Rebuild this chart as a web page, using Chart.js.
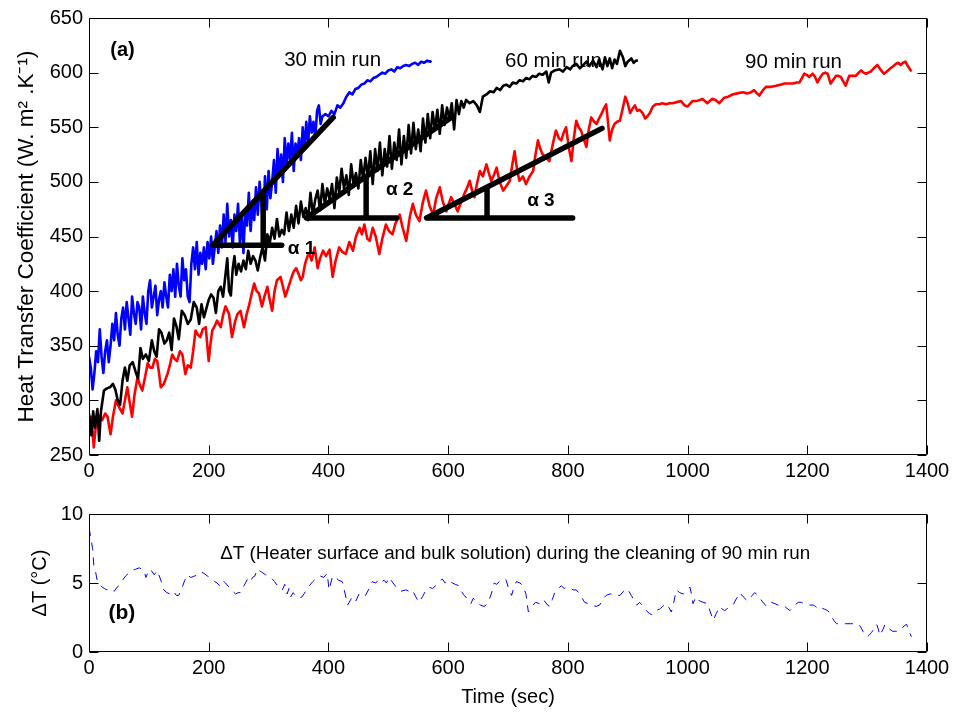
<!DOCTYPE html>
<html><head><meta charset="utf-8">
<script src="https://cdn.jsdelivr.net/npm/chart.js@4"></script>
<style>
html,body{margin:0;padding:0;background:#fff;width:955px;height:712px;overflow:hidden;}
canvas{position:absolute;left:0;}
#chartA{top:0;}
#chartB{top:490px;}
</style></head><body>
<canvas id="chartA" width="955" height="490"></canvas>
<canvas id="chartB" width="955" height="222"></canvas>
<script>
// ---------------- DATA ----------------
const timeTicks = [0, 200, 400, 600, 800, 1000, 1200, 1400];
const htcTicks = [250, 300, 350, 400, 450, 500, 550, 600, 650];
const dtTicks = [0, 5, 10];

// 30 min run (blue)
const blueTime = [0,3,6,9,12,15,18,21,24,27,30,33,36,39,42,45,48,51,54,57,60,63,66,69,72,75,78,81,84,87,90,93,96,99,102,105,108,111,114,117,120,123,126,129,132,135,138,141,144,147,150,153,156,159,162,165,168,171,174,177,180,183,186,189,192,195,198,201,204,207,210,213,216,219,222,225,228,231,234,237,240,243,246,249,252,255,258,261,264,267,270,273,276,279,282,285,288,291,294,297,300,303,306,309,312,315,318,321,324,327,330,333,336,339,342,345,348,351,354,357,360,363,366,369,372,375,378,381,384,387,390,395,400,405,410,415,420,425,430,435,440,445,450,455,460,465,470,475,480,485,490,495,500,505,510,515,520,525,530,535,540,545,550,555,560,565,570,572];
const blueHTC = [340,330,310,325,345,335,365,340,325,345,355,335,350,370,355,380,360,350,375,385,365,390,375,360,395,380,370,390,385,365,395,380,370,400,410,385,395,405,378,392,400,385,408,395,385,415,400,420,395,425,405,395,430,410,420,395,390,425,440,420,445,415,435,425,440,420,445,430,450,425,440,455,435,460,440,470,445,480,450,465,440,470,455,480,445,470,435,475,460,490,455,480,465,495,470,500,480,460,505,475,510,485,500,520,490,530,505,525,500,540,515,535,520,545,510,535,525,540,520,550,530,555,535,560,545,555,540,565,570,553,560,562,560,565,562,570,568,572,578,582,580,585,586,589,590,593,592,595,596,598,600,599,602,603,601,605,604,606,607,606,608,609,607,610,609,611,610,611];

// 60 min run (black)
const blackTime = [0,4,7,10,14,17,20,25,30,35,40,44,48,52,56,60,64,68,73,78,82,86,90,95,100,105,109,113,117,121,126,130,134,138,142,146,150,155,160,165,170,175,180,184,188,192,196,200,204,208,212,216,220,224,228,231,234,237,240,243,246,250,254,258,262,266,270,274,278,282,286,290,294,298,302,306,310,314,318,322,326,330,334,338,342,346,350,354,358,362,366,370,374,378,382,386,390,394,398,402,406,410,414,418,422,426,430,434,438,442,446,450,454,458,462,466,470,474,478,482,486,490,494,498,502,506,510,514,518,522,526,530,534,538,542,546,550,554,558,562,566,570,574,578,582,586,590,594,598,602,606,610,614,618,622,626,630,636,642,648,653,658,664,670,676,681,687,692,697,703,708,714,719,725,730,736,741,747,752,758,764,768,772,778,786,792,798,804,808,814,820,826,831,836,842,848,852,858,862,866,870,874,878,882,887,892,896,900,906,910,914,917];
const blackHTC = [288,268,290,275,292,263,290,309,311,312,315,310,300,296,318,330,318,332,335,326,320,348,338,342,336,355,345,340,365,362,352,355,362,346,375,368,356,382,378,370,374,390,385,370,388,376,384,392,397,394,380,400,404,395,415,430,400,396,420,432,415,425,418,428,420,437,425,432,428,419,431,440,428,452,444,458,448,466,450,456,452,472,455,470,458,478,462,482,468,476,465,490,470,484,492,474,498,480,494,484,498,476,504,490,512,494,506,488,516,498,508,494,520,502,522,504,528,498,530,510,536,506,530,514,542,512,536,520,548,516,542,522,552,526,554,530,548,528,558,536,562,540,564,548,566,544,570,552,568,558,572,548,575,562,574,568,575,572,574,570,564,578,580,583,582,586,584,588,589,587,591,590,593,592,595,594,597,596,599,598,601,591,600,602,603,601,605,603,606,608,604,607,610,606,611,605,612,603,614,606,613,604,612,608,620,614,606,610,613,609,611,611];

// 90 min run (red)
const redTime = [0,4,8,12,14,18,22,27,31,36,40,45,50,56,60,64,68,72,76,81,85,89,94,98,102,106,110,114,117,120,125,131,135,139,143,147,152,156,161,165,170,174,178,182,186,190,195,200,203,206,210,214,220,224,228,234,239,244,248,253,259,263,267,272,276,280,284,289,293,298,302,306,310,314,320,324,328,334,338,342,346,350,354,357,361,365,368,372,377,382,386,391,396,402,407,412,418,423,429,435,441,446,452,456,460,465,469,474,479,485,490,496,501,507,512,519,524,530,536,541,546,552,558,563,569,575,580,586,591,597,601,605,611,616,622,627,632,636,640,644,648,653,658,664,668,672,677,681,686,692,697,703,707,711,715,719,725,730,736,742,746,750,754,758,764,769,775,780,785,789,793,797,802,806,810,814,818,822,826,831,835,839,844,848,852,856,860,864,867,870,874,878,882,887,892,896,900,904,908,912,916,920,925,929,933,937,942,947,953,958,964,970,975,982,989,995,1000,1008,1016,1025,1033,1041,1047,1053,1061,1068,1075,1083,1092,1100,1106,1111,1116,1120,1126,1131,1140,1148,1155,1162,1170,1176,1182,1187,1191,1195,1199,1203,1209,1213,1217,1222,1226,1230,1234,1239,1244,1248,1252,1256,1260,1264,1268,1270,1276,1281,1286,1290,1294,1298,1302,1306,1311,1317,1322,1328,1333,1339,1344,1348,1352,1356,1360,1364,1368,1374];
const redHTC = [272,285,257,280,288,285,282,288,285,269,285,300,294,288,300,312,298,285,305,321,314,309,322,334,330,330,338,336,325,312,315,324,332,342,338,336,345,342,324,332,330,345,364,360,358,365,367,336,352,364,368,373,367,378,386,379,358,372,379,382,367,378,386,398,407,400,398,386,395,404,392,382,400,410,413,404,395,405,412,418,421,416,410,413,425,432,434,428,440,421,430,437,432,438,413,428,440,436,434,445,437,450,458,452,461,448,446,458,450,434,448,461,455,452,462,470,458,446,468,480,470,464,482,492,478,470,485,495,482,473,480,486,479,473,482,489,495,501,492,486,498,510,505,516,508,501,507,513,500,492,496,501,515,528,512,501,505,498,505,510,525,538,530,525,522,519,535,547,540,538,545,550,530,519,540,556,550,547,540,532,548,559,555,553,558,562,567,571,555,538,548,553,555,556,568,578,572,563,567,570,565,566,563,558,560,563,569,571,571,572,571,572,572,573,574,570,569,574,574,576,572,576,575,572,577,578,580,581,582,581,582,584,581,579,584,587,587,588,589,590,590,590,591,591,595,599,598,596,599,596,591,596,599,600,599,590,594,597,597,596,592,588,594,597,597,597,600,602,600,599,600,601,604,607,603,599,601,604,606,608,609,607,609,610,606,601];

// slope construction lines (alpha 1..3), [time, HTC]
const alpha1Time = [408, 207, 322], alpha1HTC = [559, 442, 442];
const alpha1RiserTime = [291, 291], alpha1RiserHTC = [490, 442];
const alpha2Time = [608, 363, 514], alpha2HTC = [560, 467, 467];
const alpha2RiserTime = [463, 463], alpha2RiserHTC = [505, 467];
const alpha3Time = [857, 564, 808], alpha3HTC = [549, 467, 467];
const alpha3RiserTime = [665, 665], alpha3RiserHTC = [495, 467];

// Delta T during cleaning of 90 min run
const dtTime = [0,3,6,8,11,14,18,22,26,30,34,38,42,47,52,56,61,66,72,78,84,88,92,95,97,100,104,109,114,120,125,130,136,141,146,150,155,160,164,170,176,182,187,192,198,206,210,214,218,223,228,234,240,245,249,253,259,265,270,273,277,281,288,295,300,304,310,315,319,323,327,331,334,337,341,345,350,356,362,368,374,381,387,392,398,401,404,407,412,417,423,428,432,436,440,446,451,456,462,468,473,479,485,489,493,497,501,508,515,521,529,535,540,546,551,557,562,568,574,579,585,590,595,599,603,607,612,618,622,627,633,638,642,646,650,654,660,666,672,677,681,685,690,694,697,701,706,710,714,720,725,730,734,740,746,753,757,761,766,770,774,778,784,789,794,798,804,809,814,820,824,828,834,840,847,853,858,864,870,876,882,887,893,898,902,906,911,915,920,926,931,936,940,946,953,958,965,969,973,977,981,987,993,998,1004,1007,1009,1012,1015,1020,1026,1034,1038,1043,1048,1054,1058,1062,1068,1076,1082,1087,1093,1100,1106,1112,1118,1124,1132,1136,1140,1146,1151,1156,1160,1165,1171,1175,1179,1185,1190,1195,1199,1204,1210,1214,1218,1223,1229,1234,1238,1244,1249,1256,1264,1272,1282,1288,1293,1299,1303,1307,1312,1316,1319,1321,1326,1330,1336,1343,1348,1352,1358,1362,1366,1370,1374];
const dtValue = [9.0,8.3,7.5,6.3,5.8,5.1,4.9,4.7,4.6,4.5,4.6,4.5,4.4,4.7,4.9,5.2,5.5,5.7,5.9,6.0,6.1,6.0,5.9,5.4,5.6,6.0,5.9,5.6,5.9,5.2,4.5,4.3,4.2,4.4,4.1,4.1,4.6,5.2,5.6,5.4,5.5,5.6,5.8,5.7,5.5,5.3,5.1,5.0,4.8,5.2,5.0,4.7,4.4,4.2,4.3,4.3,4.8,5.3,5.1,5.4,5.5,6.0,5.8,5.6,5.5,5.4,5.1,4.8,4.6,4.5,4.9,4.2,4.6,4.0,4.3,4.1,3.9,4.0,4.4,4.8,5.1,5.4,5.5,5.4,5.7,4.5,5.0,5.5,5.4,5.2,5.1,4.2,3.4,3.7,4.0,3.7,4.2,4.0,4.1,4.6,5.1,5.0,5.3,5.1,5.2,5.0,5.4,5.0,4.6,4.4,4.5,4.4,4.5,4.0,3.6,4.0,4.4,4.7,4.6,4.8,5.0,5.3,5.0,5.2,5.1,5.0,4.9,4.8,4.4,4.1,3.8,3.5,3.9,3.7,3.5,3.4,3.3,3.5,4.2,5.0,4.9,5.1,5.2,5.3,5.2,4.6,4.1,4.7,5.1,5.0,4.8,4.2,2.9,3.3,3.6,3.5,3.8,3.7,3.4,3.3,3.8,4.3,4.6,4.8,4.6,4.7,4.6,4.5,4.5,4.2,3.9,3.6,3.5,3.4,3.3,3.4,3.8,4.1,4.2,4.2,4.1,4.1,4.4,4.6,4.4,4.1,3.7,3.4,3.6,3.3,3.0,2.8,2.7,3.0,3.1,3.3,3.5,3.2,2.9,3.6,4.5,4.3,4.2,4.4,4.7,4.1,3.5,3.8,4.0,3.7,3.6,3.5,2.9,2.3,2.8,3.3,3.1,3.0,3.2,3.4,3.9,4.3,4.0,3.7,4.0,4.3,4.1,3.7,3.3,3.5,3.6,3.5,3.4,3.4,3.4,3.2,3.0,3.2,3.4,3.6,3.6,3.5,3.5,3.4,3.4,3.3,3.1,3.2,3.1,3.0,2.8,2.3,2.05,2.05,2.05,2.05,2.05,1.9,1.5,1.1,1.2,1.4,1.7,2.0,1.6,1.2,1.6,2.0,1.7,1.5,1.5,1.5,1.7,1.9,2.0,1.5,1.1];

// ---------------- TEXT ----------------
const FONT = '"Liberation Sans", Arial, Helvetica, sans-serif';
const labelsA = [
  {text: '(a)', t: 56, v: 620, size: 20, weight: 'bold'},
  {text: '30 min run', t: 407, v: 611.5, size: 20.5, weight: 'normal'},
  {text: '60 min run', t: 776, v: 610.5, size: 20.5, weight: 'normal'},
  {text: '90 min run', t: 1177, v: 609, size: 20.5, weight: 'normal'},
  {text: 'α 1', t: 355, v: 439, size: 19, weight: 'bold'},
  {text: 'α 2', t: 519, v: 493, size: 19, weight: 'bold'},
  {text: 'α 3', t: 755, v: 483, size: 19, weight: 'bold'}
];
const labelsB = [
  {text: 'ΔT (Heater surface and bulk solution) during the cleaning of 90 min run', t: 712, v: 7.15, size: 18.8, weight: 'normal'},
  {text: '(b)', t: 55, v: 2.8, size: 21, weight: 'bold'}
];

// ---------------- HELPERS ----------------
function pts(ts, vs) { return ts.map((t, i) => ({x: t, y: vs[i]})); }
function segs(aT, aV, rT, rV) { return pts(aT, aV).concat([{x: rT[0], y: null}], pts(rT, rV)); }

function boxPlugin(labels) {
  return {
    id: 'boxTicks',
    afterDatasetsDraw(chart) {
      const ctx = chart.ctx, a = chart.chartArea;
      const xs = chart.scales.x, ys = chart.scales.y;
      const L = Math.round(a.left) + 0.5, R = Math.round(a.right) - 0.5;
      const T = Math.round(a.top) + 0.5, B = Math.round(a.bottom) - 0.5;
      ctx.save();
      ctx.strokeStyle = '#000';
      ctx.lineWidth = 1;
      ctx.beginPath();
      ctx.rect(L, T, R - L, B - T);
      const tl = 9;
      xs.ticks.forEach(tk => {
        const p = Math.round(xs.getPixelForValue(tk.value)) + 0.5;
        ctx.moveTo(p, B); ctx.lineTo(p, B - tl);
        ctx.moveTo(p, T); ctx.lineTo(p, T + tl);
      });
      ys.ticks.forEach(tk => {
        const p = Math.round(ys.getPixelForValue(tk.value)) + 0.5;
        ctx.moveTo(L, p); ctx.lineTo(L + tl, p);
        ctx.moveTo(R, p); ctx.lineTo(R - tl, p);
      });
      ctx.stroke();
      ctx.fillStyle = '#000';
      ctx.textAlign = 'center';
      ctx.textBaseline = 'middle';
      labels.forEach(l => {
        ctx.font = l.weight + ' ' + l.size + 'px ' + FONT;
        ctx.fillText(l.text, xs.getPixelForValue(l.t), ys.getPixelForValue(l.v));
      });
      ctx.restore();
    }
  };
}

function lineDs(data, color, width, extra) {
  return Object.assign({
    data, borderColor: color, backgroundColor: color, borderWidth: width,
    pointRadius: 0, tension: 0, fill: false, spanGaps: false,
    borderJoinStyle: 'round', borderCapStyle: 'butt'
  }, extra || {});
}

function xScale(height, showTitle) {
  return {
    type: 'linear', min: 0, max: 1400,
    afterBuildTicks: s => { s.ticks = timeTicks.map(v => ({value: v})); },
    afterFit: s => { s.height = height; },
    grid: {display: false, drawTicks: false},
    border: {display: false},
    ticks: {color: '#000', padding: 4, font: {family: FONT, size: 20}, maxRotation: 0, autoSkip: false, callback: v => String(v)},
    title: showTitle ? {display: true, text: 'Time (sec)', color: '#000', font: {family: FONT, size: 20}, padding: {top: 0, bottom: 3}} : {display: false}
  };
}

// ---------------- CHART A ----------------
new Chart(document.getElementById('chartA'), {
  type: 'line',
  data: {
    datasets: [
      lineDs(segs(alpha1Time, alpha1HTC, alpha1RiserTime, alpha1RiserHTC), '#000', 5.5, {borderCapStyle: 'round'}),
      lineDs(segs(alpha2Time, alpha2HTC, alpha2RiserTime, alpha2RiserHTC), '#000', 5.5, {borderCapStyle: 'round'}),
      lineDs(segs(alpha3Time, alpha3HTC, alpha3RiserTime, alpha3RiserHTC), '#000', 5.5, {borderCapStyle: 'round'}),
      lineDs(pts(blueTime, blueHTC), '#0000ff', 2.6),
      lineDs(pts(blackTime, blackHTC), '#000000', 2.6),
      lineDs(pts(redTime, redHTC), '#ff0000', 2.6)
    ]
  },
  options: {
    responsive: false, animation: false, events: [],
    layout: {padding: {left: 0, top: 17, right: 28, bottom: 0}},
    plugins: {legend: {display: false}, tooltip: {enabled: false}},
    scales: {
      x: xScale(35, false),
      y: {
        type: 'linear', min: 250, max: 650,
        afterBuildTicks: s => { s.ticks = htcTicks.map(v => ({value: v})); },
        afterFit: s => { s.width = 89; },
        grid: {display: false, drawTicks: false},
        border: {display: false},
        ticks: {color: '#000', padding: 6, font: {family: FONT, size: 20}},
        title: {display: true, text: 'Heat Transfer Coefficient (W. m² .K⁻¹)', color: '#000', font: {family: FONT, size: 22.5}, padding: {top: 13, bottom: 0}}
      }
    }
  },
  plugins: [boxPlugin(labelsA)]
});

// ---------------- CHART B ----------------
new Chart(document.getElementById('chartB'), {
  type: 'line',
  data: {
    datasets: [
      lineDs(pts(dtTime, dtValue), '#0000ff', 1, {borderDash: [8, 7], borderJoinStyle: 'miter'})
    ]
  },
  options: {
    responsive: false, animation: false, events: [],
    layout: {padding: {left: 0, top: 24, right: 28, bottom: 0}},
    plugins: {legend: {display: false}, tooltip: {enabled: false}},
    scales: {
      x: xScale(60, true),
      y: {
        type: 'linear', min: 0, max: 10,
        afterBuildTicks: s => { s.ticks = dtTicks.map(v => ({value: v})); },
        afterFit: s => { s.width = 89; },
        grid: {display: false, drawTicks: false},
        border: {display: false},
        ticks: {color: '#000', padding: 6, font: {family: FONT, size: 20}},
        title: {display: true, text: 'ΔT (°C)', color: '#000', font: {family: FONT, size: 20}, padding: {top: 28, bottom: 0}}
      }
    }
  },
  plugins: [boxPlugin(labelsB)]
});
</script>
</body></html>
